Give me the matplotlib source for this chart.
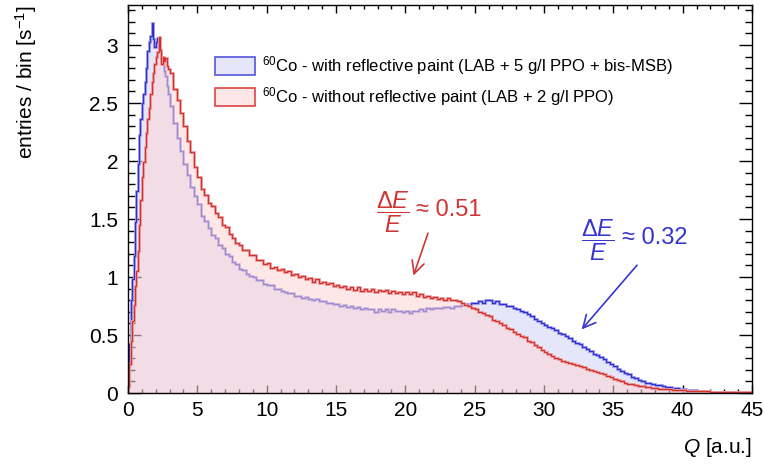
import numpy as np
import matplotlib
matplotlib.use("Agg")
import matplotlib.pyplot as plt
from matplotlib.patches import Patch
from matplotlib.ticker import MultipleLocator, FuncFormatter

# ---------------- data ----------------
# binning: 0.1 a.u. bins for Q in [0, 3], 0.25 a.u. bins for Q in [3, 45]
q_min, q_split, q_max = 0.0, 3.0, 45.0
n_fine, n_coarse = 30, 168

with_paint = [
    # 0 - 3 (0.1 bins)
    0.10, 0.42, 0.80, 0.98, 1.18, 1.47, 1.74, 1.97, 2.22, 2.36,
    2.50, 2.58, 2.68, 2.80, 2.95, 3.03, 3.08, 3.19, 3.05, 2.98,
    3.03, 3.06, 2.98, 2.95, 2.90, 2.84, 2.78, 2.73, 2.65, 2.58,
    # 3 - 45 (0.25 bins)
    2.47, 2.33, 2.20, 2.09, 1.97, 1.88, 1.78, 1.70,
    1.63, 1.53, 1.48, 1.42, 1.36, 1.34, 1.28, 1.25, 1.20, 1.18,
    1.13, 1.11, 1.07, 1.06, 1.03, 1.01, 1.00, 0.97, 0.97, 0.94,
    0.93, 0.93, 0.90, 0.90, 0.88, 0.87, 0.86, 0.86, 0.84, 0.84,
    0.82, 0.83, 0.81, 0.80, 0.81, 0.79, 0.79, 0.78, 0.78, 0.77,
    0.77, 0.75, 0.76, 0.74, 0.75, 0.73, 0.74, 0.72, 0.73, 0.72,
    0.72, 0.70, 0.72, 0.71, 0.72, 0.70, 0.72, 0.71, 0.71, 0.70,
    0.71, 0.69, 0.71, 0.71, 0.72, 0.71, 0.73, 0.72, 0.73, 0.73,
    0.73, 0.74, 0.74, 0.73, 0.75, 0.75, 0.76, 0.77, 0.76, 0.78,
    0.78, 0.79, 0.78, 0.80, 0.80, 0.78, 0.79, 0.77, 0.77, 0.75,
    0.75, 0.73, 0.72, 0.71, 0.70, 0.68, 0.66, 0.64, 0.62, 0.60,
    0.59, 0.57, 0.56, 0.54, 0.52, 0.51, 0.49, 0.47, 0.45, 0.43,
    0.42, 0.40, 0.38, 0.36, 0.34, 0.33, 0.31, 0.29, 0.27, 0.25,
    0.23, 0.21, 0.19, 0.17, 0.16, 0.14, 0.13, 0.11, 0.10, 0.09,
    0.083, 0.077, 0.072, 0.068, 0.062, 0.055, 0.050, 0.045, 0.040, 0.036,
    0.032, 0.028, 0.025, 0.022, 0.019, 0.017, 0.015, 0.013, 0.012, 0.011,
    0.010, 0.009, 0.008, 0.008, 0.007, 0.006, 0.006, 0.005, 0.005, 0.005,
]

without_paint = [
    # 0 - 3 (0.1 bins)
    0.05, 0.25, 0.45, 0.62, 0.76, 0.92, 1.05, 1.22, 1.45, 1.66,
    1.86, 1.99, 2.12, 2.24, 2.36, 2.46, 2.58, 2.68, 2.76, 2.84,
    2.90, 2.94, 3.07, 2.96, 2.84, 2.90, 2.86, 2.89, 2.82, 2.79,
    # 3 - 45 (0.25 bins)
    2.76, 2.62, 2.53, 2.41, 2.30, 2.17, 2.08, 1.95,
    1.86, 1.76, 1.71, 1.64, 1.61, 1.55, 1.52, 1.45, 1.43, 1.37,
    1.34, 1.29, 1.28, 1.23, 1.23, 1.19, 1.19, 1.15, 1.15, 1.11,
    1.12, 1.08, 1.09, 1.06, 1.07, 1.04, 1.05, 1.02, 1.03, 1.00,
    1.01, 0.98, 0.99, 0.96, 0.98, 0.95, 0.96, 0.94, 0.95, 0.92,
    0.93, 0.91, 0.92, 0.90, 0.91, 0.89, 0.91, 0.88, 0.90, 0.88,
    0.90, 0.87, 0.89, 0.88, 0.89, 0.86, 0.88, 0.86, 0.87, 0.85,
    0.87, 0.85, 0.87, 0.84, 0.85, 0.83, 0.84, 0.82, 0.83, 0.81,
    0.82, 0.80, 0.82, 0.80, 0.80, 0.79, 0.78, 0.76, 0.75, 0.73,
    0.72, 0.70, 0.69, 0.67, 0.66, 0.63, 0.62, 0.60, 0.59, 0.56,
    0.55, 0.53, 0.51, 0.49, 0.48, 0.45, 0.44, 0.41, 0.40, 0.37,
    0.35, 0.34, 0.32, 0.30, 0.29, 0.28, 0.27, 0.26, 0.25, 0.24,
    0.23, 0.22, 0.21, 0.20, 0.19, 0.18, 0.17, 0.16, 0.15, 0.14,
    0.12, 0.11, 0.10, 0.09, 0.08, 0.075, 0.068, 0.061, 0.057, 0.052,
    0.049, 0.045, 0.041, 0.037, 0.035, 0.033, 0.031, 0.029, 0.027, 0.025,
    0.023, 0.021, 0.020, 0.018, 0.017, 0.015, 0.014, 0.013, 0.012, 0.011,
    0.010, 0.009, 0.009, 0.008, 0.008, 0.007, 0.007, 0.006, 0.006, 0.005,
]

label_with = r"$^{60}$Co - with reflective paint (LAB + 5 g/l PPO + bis-MSB)"
label_without = r"$^{60}$Co - without reflective paint (LAB + 2 g/l PPO)"
res_with = "0.32"
res_without = "0.51"

# ---------------- style ----------------
plt.rcParams["font.family"] = ["Liberation Sans", "DejaVu Sans"]
plt.rcParams["mathtext.fontset"] = "custom"
plt.rcParams["mathtext.rm"] = "Liberation Sans"
plt.rcParams["mathtext.it"] = "Liberation Sans:italic"
plt.rcParams["mathtext.bf"] = "Liberation Sans:bold"

blue_line = "#2f2fcc"
blue_band = "#a4a4ec"
blue_fill = "#e6e6fb"
red_line = "#d03232"
red_band = "#f0a4a4"
red_fill = "#fcd4d4"
blue_text = "#3535cf"
red_text = "#d03535"

edges = np.concatenate([np.linspace(q_min, q_split, n_fine + 1),
                        np.linspace(q_split, q_max, n_coarse + 1)[1:]])

fig = plt.figure(figsize=(7.64, 4.65), dpi=100)
ax = fig.add_axes([128 / 764, 1 - 393 / 465, 624 / 764, 388 / 465])

# blue histogram (with paint)
ax.stairs(with_paint, edges, fill=True, color=blue_fill, zorder=1)
ax.stairs(with_paint, edges, color=blue_band, lw=2.0, zorder=2)
ax.stairs(with_paint, edges, color=blue_line, lw=0.9, zorder=3)
# red histogram (without paint), semi-transparent fill
ax.stairs(without_paint, edges, fill=True, color=red_fill, alpha=0.55, zorder=4)
ax.stairs(without_paint, edges, color=red_band, lw=2.0, zorder=5)
ax.stairs(without_paint, edges, color=red_line, lw=0.9, zorder=6)

ax.set_xlim(q_min, q_max)
ax.set_ylim(0, 3.345)

ax.xaxis.set_major_locator(MultipleLocator(5))
ax.xaxis.set_minor_locator(MultipleLocator(1))
ax.yaxis.set_major_locator(MultipleLocator(0.5))
ax.yaxis.set_minor_locator(MultipleLocator(0.1))
ax.yaxis.set_major_formatter(FuncFormatter(lambda v, p: f"{v:g}"))
ax.tick_params(axis="both", which="both", direction="in", labelsize=15, width=1.0)
ax.tick_params(axis="x", which="both", top=True)
ax.tick_params(axis="y", which="both", right=True)
ax.tick_params(axis="x", which="major", length=5.5, pad=6)
ax.tick_params(axis="x", which="minor", length=2.8)
ax.tick_params(axis="y", which="major", length=9.5, pad=7)
ax.tick_params(axis="y", which="minor", length=5)
for s in ax.spines.values():
    s.set_linewidth(1.0)
    s.set_zorder(10)

ax.set_ylabel(r"entries / bin [s$^{-1}$]", fontsize=15, loc="top")
ax.yaxis.set_label_coords(-0.142, 1.0)
ax.set_xlabel(r"$Q$ [a.u.]", fontsize=15, loc="right")
ax.xaxis.set_label_coords(1.0, -0.11)

handles = [
    Patch(facecolor=blue_fill, edgecolor="#5555dd", lw=1.2),
    Patch(facecolor="#fde6e6", edgecolor="#dd4444", lw=1.2),
]
leg = ax.legend(handles, [label_with, label_without], loc="upper left",
                bbox_to_anchor=(215 / 764, 1 - 54 / 465), bbox_transform=fig.transFigure,
                frameon=False, fontsize=12, handlelength=2.4, handleheight=1.3,
                handletextpad=0.45, labelspacing=0.5, borderpad=0, borderaxespad=0)
leg.set_zorder(20)

# resolution annotations
frac = r"$\dfrac{\Delta E}{E}$"
ax.text(19.1, 1.56, frac, color=red_text, fontsize=17, ha="center", va="center", zorder=20)
ax.text(20.75, 1.58, "\u2248 " + res_without, color=red_text, fontsize=17, ha="left", va="center", zorder=20)
ax.annotate("", xy=(20.52, 0.99), xytext=(21.7, 1.40),
            arrowprops=dict(arrowstyle="->,head_length=0.9,head_width=0.45", color=red_text, lw=1.2),
            zorder=20)

ax.text(33.9, 1.32, frac, color=blue_text, fontsize=17, ha="center", va="center", zorder=20)
ax.text(35.6, 1.34, "\u2248 " + res_with, color=blue_text, fontsize=17, ha="left", va="center", zorder=20)
ax.annotate("", xy=(32.59, 0.53), xytext=(36.84, 1.12),
            arrowprops=dict(arrowstyle="->,head_length=0.9,head_width=0.45", color=blue_text, lw=1.2),
            zorder=20)

fig.savefig("out.png", dpi=100)
